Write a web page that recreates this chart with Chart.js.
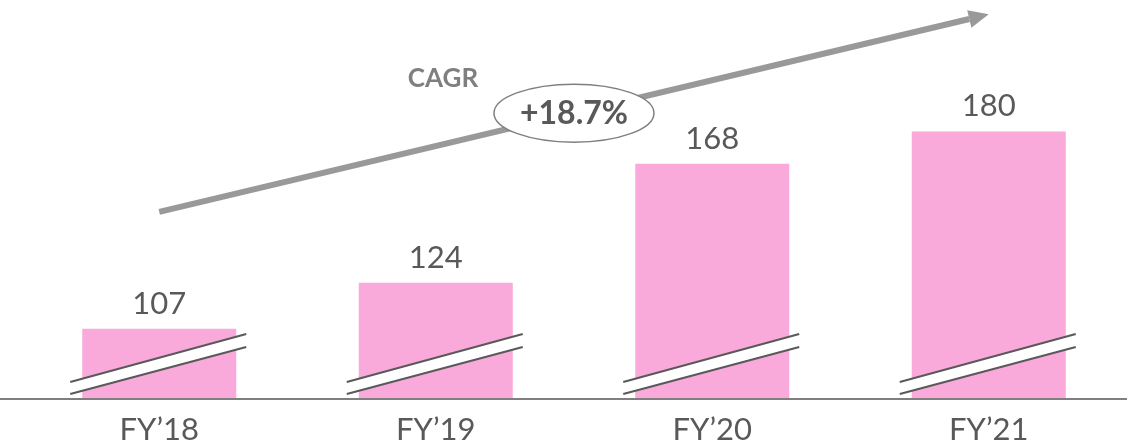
<!DOCTYPE html>
<html>
<head>
<meta charset="utf-8">
<script src="https://cdn.jsdelivr.net/npm/chart.js@4.4.0/dist/chart.umd.min.js"></script>
<style>
  html, body { margin: 0; padding: 0; background: #fff; }
  #wrap { width: 1135px; height: 447px; }
</style>
</head>
<body>
<div id="wrap"><canvas id="graph" width="1135" height="447"></canvas></div>
<script>
const categories = ["FY\u201918", "FY\u201919", "FY\u201920", "FY\u201921"];
const revenue = [107, 124, 168, 180];
const cagrText = "+18.7%";
// broken axis: bars start at 81, not 0
const axisMin = 81;
const axisMax = 228.6;

const pink = "#F9A9DA";
const textGray = "#595959";

// value labels, category labels, broken-axis slashes, baseline and the CAGR arrow
const decorations = {
    id: "decorations",
    afterDatasetsDraw(chart){
        const ctx = chart.ctx;
        const area = chart.chartArea;
        const meta = chart.getDatasetMeta(0);
        const xScale = chart.scales.x;
        const base = area.bottom;

        ctx.save();

        // baseline
        ctx.strokeStyle = "#7F7F7F";
        ctx.lineWidth = 2;
        ctx.beginPath();
        ctx.moveTo(0, base);
        ctx.lineTo(area.right, base);
        ctx.stroke();

        meta.data.forEach((bar, i) => {
            const left = bar.x - bar.width / 2 - 12;
            const right = bar.x + bar.width / 2 + 10;

            // white gap of the break
            ctx.fillStyle = "#fff";
            ctx.beginPath();
            ctx.moveTo(left, base - 17);
            ctx.lineTo(right, base - 65);
            ctx.lineTo(right, base - 52);
            ctx.lineTo(left, base - 5);
            ctx.closePath();
            ctx.fill();

            ctx.strokeStyle = textGray;
            ctx.lineWidth = 2;
            ctx.beginPath();
            ctx.moveTo(left, base - 17);
            ctx.lineTo(right, base - 65);
            ctx.moveTo(left, base - 5);
            ctx.lineTo(right, base - 52);
            ctx.stroke();

            ctx.fillStyle = textGray;
            ctx.textAlign = "center";
            ctx.textBaseline = "alphabetic";

            // value
            ctx.font = "31px Lato";
            ctx.fillText(revenue[i], bar.x, bar.y - 15);

            // category
            ctx.font = "31px Lato";
            ctx.fillText(categories[i], xScale.getPixelForValue(i), base + 41);
        });

        // CAGR arrow from first to last bar
        const y = chart.scales.y;
        const x0 = meta.data[0].x, y0 = y.getPixelForValue(150.2);
        const x1 = meta.data[3].x, y1 = y.getPixelForValue(223.3);
        const ang = Math.atan2(y1 - y0, x1 - x0);
        const head = 20;

        ctx.strokeStyle = "#999999";
        ctx.fillStyle = "#999999";
        ctx.lineWidth = 6;
        ctx.beginPath();
        ctx.moveTo(x0, y0);
        ctx.lineTo(x1 - head * Math.cos(ang), y1 - head * Math.sin(ang));
        ctx.stroke();
        ctx.beginPath();
        ctx.moveTo(x1, y1);
        ctx.lineTo(x1 - head * Math.cos(ang) + 9 * Math.sin(ang), y1 - head * Math.sin(ang) - 9 * Math.cos(ang));
        ctx.lineTo(x1 - head * Math.cos(ang) - 9 * Math.sin(ang), y1 - head * Math.sin(ang) + 9 * Math.cos(ang));
        ctx.closePath();
        ctx.fill();

        // ellipse in the middle of the arrow
        const mx = (x0 + x1) / 2, my = (y0 + y1) / 2;
        ctx.fillStyle = "#fff";
        ctx.strokeStyle = "#7F7F7F";
        ctx.lineWidth = 1.5;
        ctx.beginPath();
        ctx.ellipse(mx, my, 80, 29, 0, 0, Math.PI * 2);
        ctx.fill();
        ctx.stroke();

        ctx.fillStyle = textGray;
        ctx.font = "bold 32px Lato";
        ctx.textAlign = "center";
        ctx.textBaseline = "alphabetic";
        ctx.fillText(cagrText, mx, my + 11);

        ctx.fillStyle = "#7F7F7F";
        ctx.font = "bold 26px Lato";
        ctx.fillText("CAGR", mx - 131, my - 26);

        ctx.restore();
    }
};

const chart = new Chart(document.querySelector("#graph").getContext("2d"), {
    type: "bar",
    data: {
        labels: categories,
        datasets: [{
            label: "Revenue",
            data: revenue,
            backgroundColor: pink,
            borderWidth: 0,
            categoryPercentage: 1,
            barPercentage: 0.557
        }]
    },
    options: {
        responsive: false,
        animation: false,
        layout: {
            padding: { left: 21, right: 8, top: 0, bottom: 48 }
        },
        plugins: {
            legend: { display: false },
            tooltip: { enabled: false }
        },
        scales: {
            x: {
                grid: { display: false, drawTicks: false },
                border: { display: false },
                ticks: { display: false }
            },
            y: {
                display: false,
                min: axisMin,
                max: axisMax
            }
        }
    },
    plugins: [decorations]
});
</script>
</body>
</html>
